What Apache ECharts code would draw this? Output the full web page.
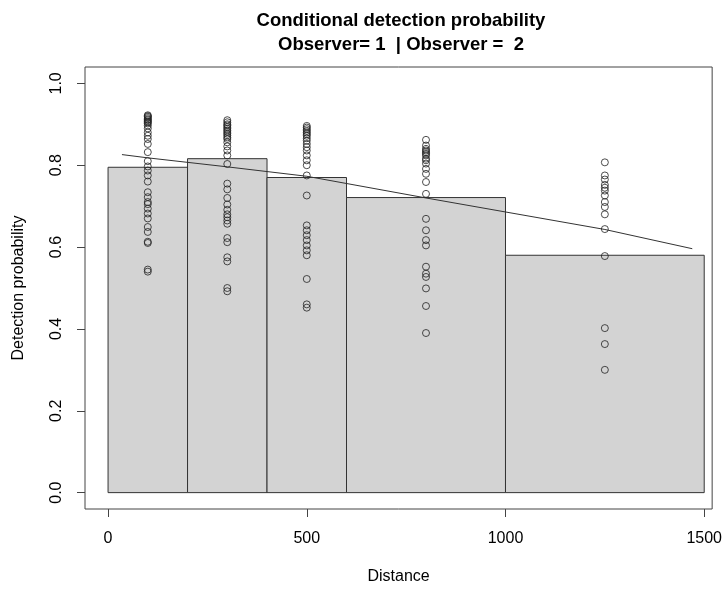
<!DOCTYPE html>
<html>
<head>
<meta charset="utf-8">
<script src="https://cdn.jsdelivr.net/npm/echarts@6/dist/echarts.min.js"></script>
<style>html,body{margin:0;padding:0;background:#fff}#c{width:725px;height:590px}</style>
</head>
<body>
<div id="c"></div>
<script>
// ---- data ----
const binEdges = [0, 200, 400, 600, 1000, 1500];
const binHeights = [0.795, 0.816, 0.770, 0.721, 0.580];
const pointDistances = [100, 300, 500, 800, 1250];
const probAt100 = [0.922, 0.920, 0.918, 0.915, 0.912, 0.910, 0.907, 0.905, 0.902, 0.897, 0.890, 0.880, 0.872, 0.864, 0.852, 0.832, 0.810, 0.797, 0.787, 0.775, 0.760, 0.734, 0.722, 0.710, 0.705, 0.694, 0.682, 0.670, 0.649, 0.637, 0.613, 0.610, 0.545, 0.540];
const probAt300 = [0.910, 0.905, 0.900, 0.897, 0.893, 0.889, 0.885, 0.881, 0.877, 0.873, 0.868, 0.864, 0.856, 0.846, 0.836, 0.824, 0.803, 0.755, 0.741, 0.720, 0.704, 0.691, 0.680, 0.673, 0.665, 0.657, 0.622, 0.612, 0.575, 0.565, 0.500, 0.492];
const probAt500 = [0.896, 0.892, 0.888, 0.884, 0.880, 0.876, 0.872, 0.866, 0.860, 0.852, 0.844, 0.836, 0.824, 0.812, 0.800, 0.775, 0.726, 0.653, 0.641, 0.629, 0.617, 0.604, 0.592, 0.580, 0.522, 0.460, 0.452];
const probAt800 = [0.862, 0.848, 0.840, 0.836, 0.832, 0.828, 0.824, 0.816, 0.812, 0.804, 0.791, 0.779, 0.759, 0.730, 0.669, 0.641, 0.617, 0.604, 0.552, 0.535, 0.527, 0.499, 0.456, 0.390];
const probAt1250 = [0.807, 0.775, 0.765, 0.752, 0.745, 0.738, 0.726, 0.710, 0.698, 0.680, 0.644, 0.578, 0.402, 0.363, 0.300];
const fitDistance = [35, 100, 300, 500, 800, 1250, 1470];
const fitProb = [0.826, 0.818, 0.796, 0.773, 0.720, 0.643, 0.596];
const xTicks = [0, 500, 1000, 1500];
const yTicks = [0, 0.2, 0.4, 0.6, 0.8, 1.0];
const titleText = 'Conditional detection probability\nObserver= 1  | Observer =  2';
const xName = 'Distance';
const yName = 'Detection probability';

// ---- build ----
const histData = binHeights.map((h, i) => [binEdges[i], binEdges[i + 1], h]);
const probColumns = [probAt100, probAt300, probAt500, probAt800, probAt1250];
const pointData = [];
probColumns.forEach((col, i) => col.forEach(p => pointData.push([pointDistances[i], p])));
const fitData = fitDistance.map((d, i) => [d, fitProb[i]]);

const FONT = '"Liberation Sans", Arial, sans-serif';
const chart = echarts.init(document.getElementById('c'), null, {renderer: 'canvas'});
chart.setOption({
  backgroundColor: '#ffffff',
  animation: false,
  title: {
    text: titleText,
    left: 396, top: 4, textAlign: 'center',
    textStyle: {fontFamily: FONT, fontWeight: 'bold', fontSize: 18.5, color: '#000', lineHeight: 24}
  },
  grid: {left: 85, right: 12, top: 67, bottom: 79, show: true, borderColor: '#444', borderWidth: 1, backgroundColor: 'transparent'},
  xAxis: {
    type: 'value', min: -58, max: 1520,
    name: xName, nameLocation: 'middle', nameGap: 60,
    nameTextStyle: {fontFamily: FONT, fontSize: 16, color: '#000'},
    axisLine: {show: false, onZero: false},
    splitLine: {show: false},
    axisTick: {show: true, length: 8, customValues: xTicks, lineStyle: {color: '#444'}},
    axisLabel: {customValues: xTicks, margin: 22, fontFamily: FONT, fontSize: 16, color: '#000',
      formatter: v => String(v)}
  },
  yAxis: {
    type: 'value', min: -0.04, max: 1.04,
    name: yName, nameLocation: 'middle', nameGap: 58,
    nameTextStyle: {fontFamily: FONT, fontSize: 16, color: '#000'},
    axisLine: {show: false, onZero: false},
    splitLine: {show: false},
    axisTick: {show: true, length: 8, customValues: yTicks, lineStyle: {color: '#444'}},
    axisLabel: {customValues: yTicks, rotate: 90, margin: 20, fontFamily: FONT, fontSize: 16, color: '#000',
      formatter: v => v.toFixed(1)}
  },
  series: [
    {
      type: 'custom',
      data: histData,
      encode: {x: [0, 1], y: 2},
      renderItem: (params, api) => {
        const p0 = api.coord([api.value(0), api.value(2)]);
        const p1 = api.coord([api.value(1), 0]);
        return {
          type: 'rect',
          shape: {x: p0[0], y: p0[1], width: p1[0] - p0[0], height: p1[1] - p0[1]},
          style: {fill: '#d3d3d3', stroke: '#333', lineWidth: 1}
        };
      },
      z: 1
    },
    {
      type: 'line',
      data: fitData,
      showSymbol: false,
      lineStyle: {color: '#333', width: 1},
      z: 2
    },
    {
      type: 'scatter',
      data: pointData,
      symbol: 'circle',
      symbolSize: 7,
      itemStyle: {color: 'rgba(0,0,0,0)', borderColor: '#222', borderWidth: 1},
      z: 3
    }
  ]
});
</script>
</body>
</html>
